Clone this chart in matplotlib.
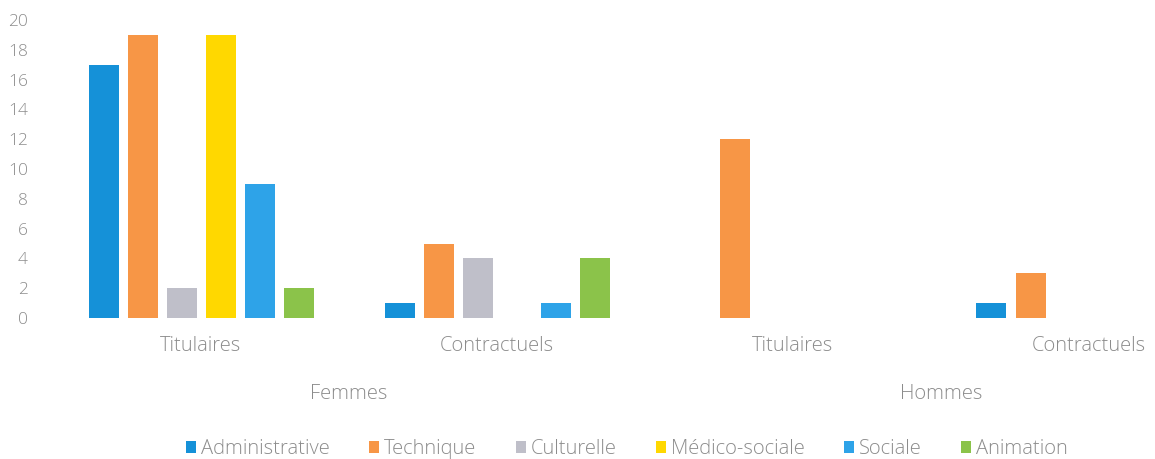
import matplotlib.pyplot as plt
import numpy as np

plt.rcParams['font.family'] = ['Open Sans', 'DejaVu Sans']

groupes = ['Titulaires', 'Contractuels', 'Titulaires', 'Contractuels']
sexes = ['Femmes', 'Hommes']
filieres = ['Administrative', 'Technique', 'Culturelle', 'Médico-sociale', 'Sociale', 'Animation']
couleurs = ['#1591d8', '#f79646', '#bfbfc9', '#ffd800', '#2ea3e8', '#8bc34a']

administrative = [17, 1, 0, 1]
technique = [19, 5, 12, 3]
culturelle = [2, 4, 0, 0]
medico_sociale = [19, 0, 0, 0]
sociale = [9, 1, 0, 0]
animation = [2, 4, 0, 0]
series = [administrative, technique, culturelle, medico_sociale, sociale, animation]

fig = plt.figure(figsize=(11.55, 4.59), dpi=100)
# la zone de tracé dépasse à droite (image recadrée)
ax = fig.add_axes([53 / 1155, 141 / 459, 1184 / 1155, 298 / 459])

x = np.arange(len(groupes))
pas = 39 / 296
largeur = 30 / 296
for i, (vals, c, nom) in enumerate(zip(series, couleurs, filieres)):
    ax.bar(x + (i - 2.5) * pas, vals, largeur, color=c, label=nom)

ax.set_xlim(-0.5, 3.5)
ax.set_ylim(0, 20)
ax.set_yticks(range(0, 21, 2))
ax.set_xticks(x)
ax.set_xticklabels(groupes)
gris = '#8c8c8c'
ax.tick_params(axis='y', length=0, labelsize=12.5, labelcolor=gris, pad=18)
ax.tick_params(axis='x', length=0, labelsize=14.5, labelcolor=gris, pad=13)
for lab in ax.get_xticklabels() + ax.get_yticklabels():
    lab.set_fontweight('light')
for s in ax.spines.values():
    s.set_visible(False)

for j, sexe in enumerate(sexes):
    ax.text(0.5 + 2 * j, -0.255, sexe, transform=ax.get_xaxis_transform(),
            ha='center', va='center', fontsize=14.5, color=gris, fontweight='light')

handles, labels = ax.get_legend_handles_labels()
leg = fig.legend(handles, labels, loc='center', bbox_to_anchor=(627 / 1155, 1 - 449 / 459),
                 ncol=6, frameon=False, fontsize=14.5, labelcolor=gris,
                 handlelength=0.5, handleheight=0.5, handletextpad=0.25, columnspacing=1.95)
for t in leg.get_texts():
    t.set_fontweight('light')

fig.savefig('out.png', dpi=100)
